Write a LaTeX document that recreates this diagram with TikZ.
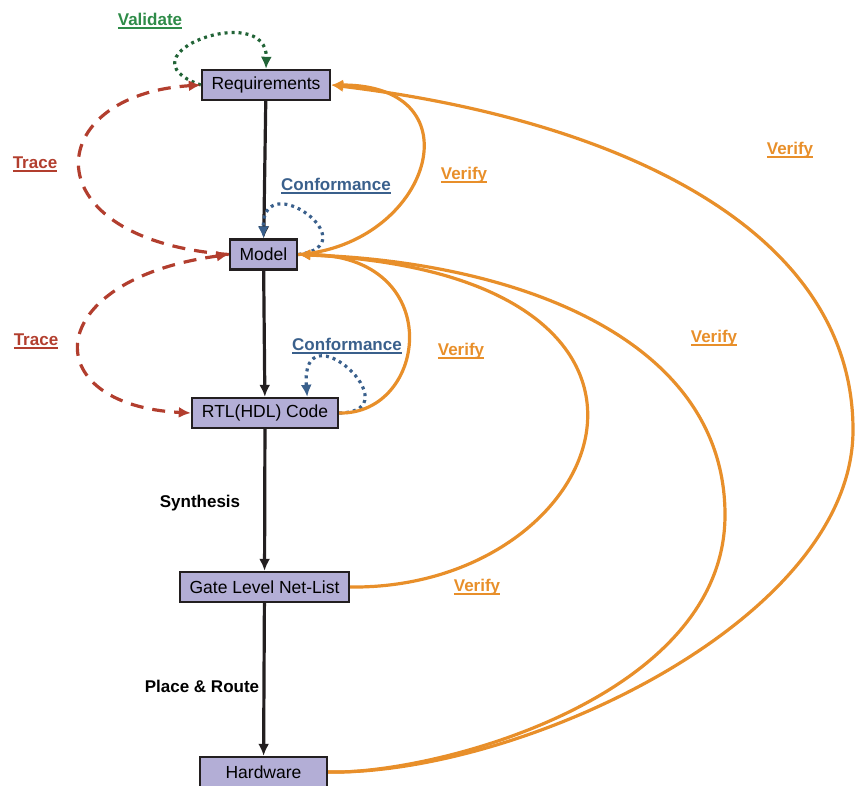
\documentclass[tikz,border=0pt]{standalone}
\usepackage{fontspec}
\setmainfont{Liberation Sans}
\usetikzlibrary{arrows.meta}

\definecolor{boxfill}{RGB}{179,174,214}
\definecolor{boxline}{RGB}{35,31,32}
\definecolor{verifyc}{RGB}{232,143,42}
\definecolor{tracec}{RGB}{178,62,46}
\definecolor{confc}{RGB}{58,96,140}
\definecolor{validc}{RGB}{34,100,55}
\definecolor{validtxt}{RGB}{46,139,72}

% underlined label text
\newcommand{\ulbl}[1]{\setbox0=\hbox{#1}\copy0\kern-\wd0\rule[-3.5pt]{\wd0}{1.5pt}}

\begin{document}
\begin{tikzpicture}[
  x=1pt,y=-1pt,
  >={Latex[length=12pt,width=11pt]},
  stage/.style={draw=boxline,line width=2.4pt,fill=boxfill,minimum height=30pt,
    inner xsep=3pt,font=\fontsize{17.5}{20}\selectfont},
  flow/.style={->,draw=boxline,line width=3.2pt},
  verify/.style={->,draw=verifyc,line width=3.2pt},
  trace/.style={->,draw=tracec,line width=3.2pt,dash pattern=on 13pt off 9pt},
  conform/.style={->,draw=confc,line width=3.2pt,dash pattern=on 3pt off 4pt},
  validate/.style={->,draw=validc,line width=3.2pt,dash pattern=on 3pt off 4pt},
  tag/.style={font=\fontsize{17}{20}\selectfont\bfseries}
]
  \useasboundingbox (0,0) rectangle (856,785);

  % design flow
  \node[stage,minimum width=128pt] (req) at (266,85) {Requirements};
  \node[stage,minimum width=67pt] (model) at (263.5,254.5) {Model};
  \node[stage,minimum width=146pt] (rtl) at (265,413) {RTL(HDL) Code};
  \node[stage,minimum width=169pt] (gate) at (264.5,587) {Gate Level Net-List};
  \node[stage,minimum width=127pt] (hw) at (263.5,772) {Hardware};

  \draw[flow] (req) -- (model);
  \draw[flow] (model) -- (rtl);
  \draw[flow] (rtl) -- (gate);
  \draw[flow] (gate) -- (hw);

  \node[tag] (synth) at (200,503) {Synthesis};
  \node[tag] (pnr) at (202,686) {Place \& Route};

  % labels
  \node[tag,text=validtxt] (validate) at (150,21) {\ulbl{Validate}};
  \node[tag,text=tracec] (trace1) at (35,164) {\ulbl{Trace}};
  \node[tag,text=tracec] (trace2) at (36,341) {\ulbl{Trace}};
  \node[tag,text=confc] (conf1) at (336,186) {\ulbl{Conformance}};
  \node[tag,text=confc] (conf2) at (347,346) {\ulbl{Conformance}};
  \node[tag,text=verifyc] (v1) at (464,175) {\ulbl{Verify}};
  \node[tag,text=verifyc] (v2) at (461,351) {\ulbl{Verify}};
  \node[tag,text=verifyc] (v3) at (477,587) {\ulbl{Verify}};
  \node[tag,text=verifyc] (v4) at (714,338) {\ulbl{Verify}};
  \node[tag,text=verifyc] (v5) at (790,150) {\ulbl{Verify}};

  % validate and conformance loops
  \draw[validate] (req.west) .. controls (115,55) and (268,0) .. (req.north);
  \draw[conform] (model.east) .. controls (370,245) and (262,165) .. (model.north);
  \draw[conform] (rtl.east) .. controls (415,412) and (300,305) .. (rtl.21);

  % trace
  \draw[trace] (model.west) .. controls (30,240) and (40,95) .. (req.west);
  \draw[trace,<->] (model.west) .. controls (40,280) and (35,405) .. (rtl.west);

  % verify
  \coordinate (hwloop) at (725,515);
  \coordinate (outerloop) at (853,430);
  \draw[verify] (model.east) .. controls (430,245) and (480,85) .. (req.east);
  \draw[verify] (rtl.east) .. controls (428,415) and (448,255) .. (model.east);
  \draw[verify] (gate.east) .. controls (610,590) and (735,275) .. (model.east);
  \draw[verify] (hw.east) .. controls (430,775) and (725,700) .. (hwloop)
    .. controls (725,340) and (520,262) .. (model.east);
  \draw[verify] (hw.east) .. controls (520,775) and (853,620) .. (outerloop)
    .. controls (853,230) and (620,120) .. (req.east);
\end{tikzpicture}
\end{document}
